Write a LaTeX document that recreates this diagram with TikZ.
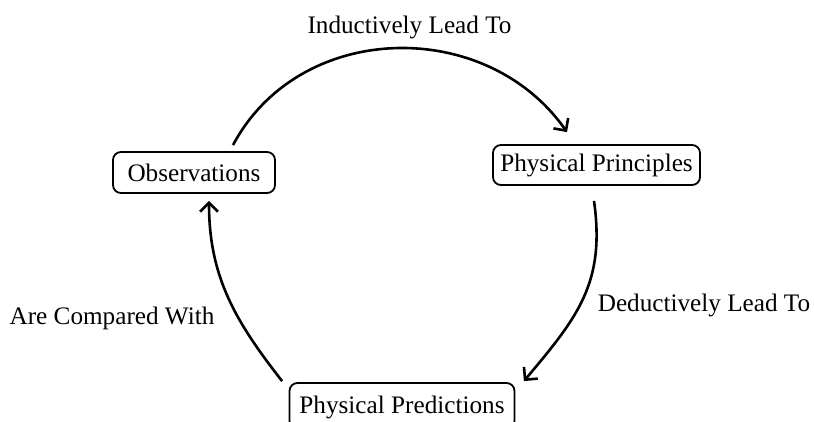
\documentclass[tikz,border=0pt]{standalone}
\usepackage{fontspec}
\setmainfont{Liberation Serif}
\usetikzlibrary{arrows.meta}
\begin{document}
\begin{tikzpicture}[x=1pt,y=1pt,
  box/.style={draw, line width=1.8pt, rounded corners=8pt, inner sep=0pt, align=center,
    font=\fontsize{25.2}{29}\selectfont},
  lbl/.style={inner sep=0pt, font=\fontsize{25.2}{29}\selectfont},
  flow/.style={line width=2.6pt, -{Straight Barb[length=9pt,width=18pt,line width=2.6pt]}}]
\useasboundingbox (0,0) rectangle (814,-421);
\node[box, minimum width=162pt, minimum height=41pt] (obs) at (194,-172.5) {Observations};
\node[box, minimum width=207pt, minimum height=40pt] (pp) at (596.5,-165) {Physical Principles};
\node[box, minimum width=225pt, text height=30pt, text depth=16pt, anchor=base] (pred) at (402,-413) {Physical Predictions};
\node[lbl] (l1) at (409.5,-27) {Inductively Lead To};
\node[lbl] (l2) at (704,-305) {Deductively Lead To};
\node[lbl] (l3) at (112,-318) {Are Compared With};
\draw[flow] ([xshift=39pt,yshift=6pt]obs.north) to[out=62,in=125,looseness=1.08] ([xshift=-29.5pt,yshift=12pt]pp.north);
\draw[flow] ([xshift=-2.5pt,yshift=-15pt]pp.south) to[out=-82,in=50,looseness=1.1] ([xshift=8.5pt,yshift=1pt]pred.north east);
\draw[flow] ([xshift=-6.5pt,yshift=1pt]pred.north west) to[out=128,in=-90,looseness=1] ([xshift=15pt,yshift=-7pt]obs.south);
\end{tikzpicture}
\end{document}
